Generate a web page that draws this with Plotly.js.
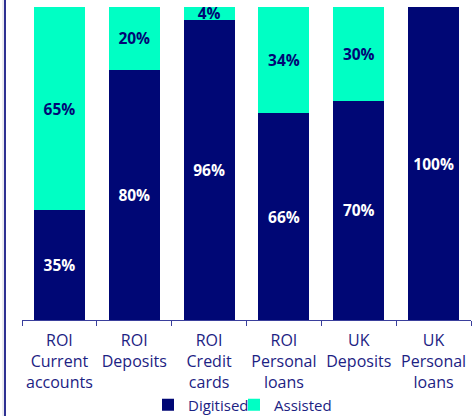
<!DOCTYPE html>
<html>
<head>
<meta charset="utf-8">
<script src="https://cdn.plot.ly/plotly-3.0.1.min.js"></script>
<style>html,body{margin:0;padding:0;background:#fff;}#chart{width:475px;height:416px;}</style>
</head>
<body>
<div id="chart"></div>
<script>
var categories = ["ROI<br>Current<br>accounts", "ROI<br>Deposits", "ROI<br>Credit<br>cards", "ROI<br>Personal<br>loans", "UK<br>Deposits", "UK<br>Personal<br>loans"];
var digitised = [35, 80, 96, 66, 70, 100];
var assisted = [65, 20, 4, 34, 30, 0];

var navy = '#000775';
var cyan = '#00FFC4';
var textNavy = '#1c2283';

function labels(arr){ return arr.map(function(v){ return v ? v + '%' : ''; }); }

var traces = [
  {type:'bar', name:'Digitised', legend:'legend', x:categories, y:digitised, marker:{color:navy},
   text:labels(digitised), textposition:'inside', insidetextanchor:'middle', constraintext:'none',
   textfont:{family:'Open Sans', size:15.5, color:'#ffffff', weight:'bold'}, hoverinfo:'none'},
  {type:'bar', name:'Assisted', legend:'legend2', x:categories, y:assisted, marker:{color:cyan},
   text:labels(assisted), textposition:'inside', insidetextanchor:'middle', constraintext:'none',
   textfont:{family:'Open Sans', size:15.5, color:navy, weight:'bold'}, hoverinfo:'none'}
];

var legendBase = {orientation:'h', xanchor:'left', y:-0.2716, yanchor:'middle', font:{size:15, color:textNavy}, itemwidth:30, bgcolor:'rgba(0,0,0,0)'};

var layout = {
  width:475, height:416,
  barmode:'stack', bargap:0.32,
  margin:{l:22, r:4, t:7, b:96, autoexpand:false},
  paper_bgcolor:'#fff', plot_bgcolor:'#fff',
  font:{family:'Open Sans', color:textNavy, size:16},
  showlegend:true,
  legend:Object.assign({}, legendBase, {x:(148-22)/449}),
  legend2:Object.assign({}, legendBase, {x:(234-22)/449}),
  xaxis:{type:'category', automargin:false, tickangle:0, showline:true, linecolor:'#3a3f9c', linewidth:1, ticks:'outside', tickson:'boundaries', ticklen:5, tickcolor:'#3a3f9c', ticklabelstandoff:6, tickfont:{size:16, color:textNavy}, showgrid:false, zeroline:false},
  yaxis:{range:[0,100], visible:false, showgrid:false, zeroline:false},
  shapes:[
    {type:'line', xref:'paper', yref:'paper', x0:-17/449, x1:-17/449, y0:-0.4, y1:1.03, line:{color:'#2e3192', width:2}},
    {type:'line', xref:'paper', yref:'paper', x0:-19/449, x1:-19/449, y0:-0.4, y1:1.03, line:{color:'#d8d8e4', width:1}}
  ]
};

Plotly.newPlot('chart', traces, layout, {displayModeBar:false, staticPlot:true});
</script>
</body>
</html>
